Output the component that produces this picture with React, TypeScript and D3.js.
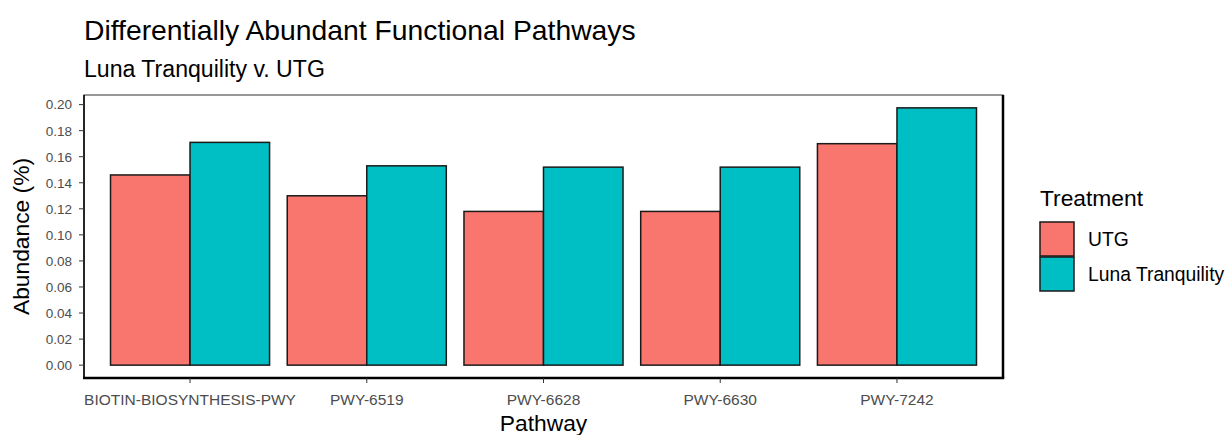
import React from "react";
import * as d3 from "d3";

const pathways = ["BIOTIN-BIOSYNTHESIS-PWY", "PWY-6519", "PWY-6628", "PWY-6630", "PWY-7242"];
const treatments = ["UTG", "Luna Tranquility"];
const utgValues = [0.146, 0.130, 0.118, 0.118, 0.170];
const lunaValues = [0.171, 0.153, 0.152, 0.152, 0.1975];
const yTicks = [0, 0.02, 0.04, 0.06, 0.08, 0.1, 0.12, 0.14, 0.16, 0.18, 0.2];
const colors = ["#F8766D", "#00BFC4"];

const W = 1227, H = 435;
const panel = { left: 84, right: 1003, top: 95, bottom: 378 };
const FONT = "'Liberation Sans', Arial, sans-serif";

export default function App() {
  const series = [utgValues, lunaValues];
  const maxV = d3.max(series.flat()) as number;
  const x = d3.scalePoint<string>().domain(pathways).range([panel.left, panel.right]).padding(0.6);
  const step = x.step();
  const sub = d3.scaleBand<string>().domain(treatments).range([-0.45 * step, 0.45 * step]);
  const y = d3.scaleLinear().domain([-0.05 * maxV, maxV * 1.05]).range([panel.bottom, panel.top]);
  const fmt = d3.format(".2f");

  return (
    <svg width={W} height={H} style={{ position: "absolute", left: 0, top: 0, background: "#fff" }} fontFamily={FONT}>
      <rect x={0} y={0} width={W} height={H} fill="#fff" />
      <text x={84} y={40} fontSize={28.3} fill="#000">Differentially Abundant Functional Pathways</text>
      <text x={84} y={77} fontSize={23.1} fill="#000">Luna Tranquility v. UTG</text>

      {pathways.map((p, i) =>
        treatments.map((t, j) => {
          const v = series[j][i];
          const x0 = (x(p) as number) + (sub(t) as number);
          return (
            <rect key={p + t} x={x0} y={y(v)} width={sub.bandwidth()} height={y(0) - y(v)}
              fill={colors[j]} stroke="#1a1a1a" strokeWidth={1.5} />
          );
        })
      )}

      <rect x={panel.left} y={panel.top} width={panel.right - panel.left} height={panel.bottom - panel.top}
        fill="none" stroke="#333" strokeWidth={1} />
      <line x1={panel.left} x2={panel.left} y1={panel.top} y2={panel.bottom} stroke="#000" strokeWidth={1.5} />
      <line x1={panel.left - 1} x2={panel.right + 1.2} y1={panel.bottom} y2={panel.bottom} stroke="#000" strokeWidth={2.5} />
      <line x1={panel.right} x2={panel.right} y1={panel.top} y2={panel.bottom} stroke="#000" strokeWidth={2.5} />

      {yTicks.map((t) => (
        <g key={t}>
          <line x1={panel.left - 5} x2={panel.left} y1={y(t)} y2={y(t)} stroke="#333" strokeWidth={1} />
          <text x={panel.left - 12} y={y(t)} dy="0.36em" textAnchor="end" fontSize={13.5} fill="#4D4D4D">{fmt(t)}</text>
        </g>
      ))}
      {pathways.map((p) => (
        <g key={p}>
          <line x1={x(p)} x2={x(p)} y1={panel.bottom} y2={panel.bottom + 5} stroke="#333" strokeWidth={1} />
          <text x={x(p)} y={405} textAnchor="middle" fontSize={15.5} fill="#4D4D4D">{p}</text>
        </g>
      ))}

      <text transform={`translate(29, ${(panel.top + panel.bottom) / 2}) rotate(-90)`} textAnchor="middle" fontSize={22.8} fill="#000">Abundance (%)</text>
      <text x={(panel.left + panel.right) / 2} y={431} textAnchor="middle" fontSize={22.8} fill="#000">Pathway</text>

      <text x={1040} y={206} fontSize={22.8} fill="#000">Treatment</text>
      {treatments.map((t, j) => (
        <g key={t}>
          <rect x={1040} y={222 + j * 35} width={34} height={34} fill={colors[j]} stroke="#1a1a1a" strokeWidth={1.5} />
          <text x={1088} y={222 + j * 35 + 17} dy="0.36em" fontSize={19.3} fill="#000">{t}</text>
        </g>
      ))}
    </svg>
  );
}
